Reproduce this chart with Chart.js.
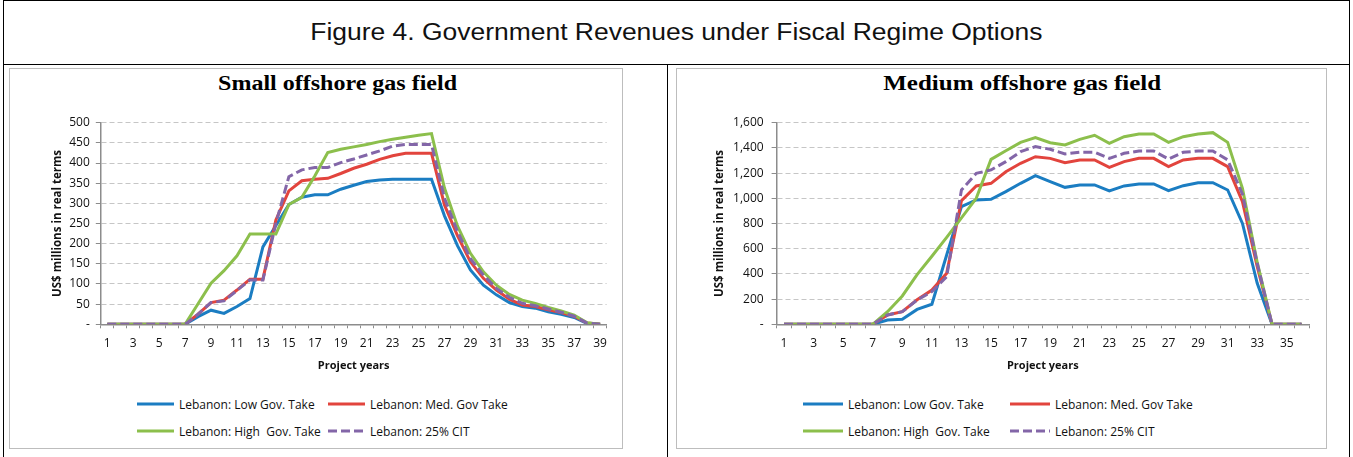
<!DOCTYPE html>
<html>
<head>
<meta charset="utf-8">
<title>Figure 4. Government Revenues under Fiscal Regime Options</title>
<script src="https://cdn.jsdelivr.net/npm/chart.js@4.4.1/dist/chart.umd.min.js"></script>
<style>
  body { margin: 0; background: #fff; }
  #page { position: relative; width: 1353px; height: 457px; overflow: hidden; font-family: 'Open Sans', sans-serif; }
  .rule { position: absolute; background: #000; }
  #figTitle { position: absolute; left: 4px; top: 1px; width: 1345px; height: 63px; line-height: 63px; text-align: center;
              font-family: 'Liberation Sans', Arial, sans-serif; font-size: 23px; color: #111; }
  #figTitle span { display: inline-block; transform: scaleX(1.15); }
  .chartBox { position: absolute; border: 1px solid #bdbdbd; box-sizing: border-box; }
  .subTitle { position: absolute; top: 72px; text-align: center; white-space: nowrap;
              font-family: 'Liberation Serif', 'Times New Roman', serif; font-weight: bold; font-size: 20px; color: #000; }
  .subTitle span { display: inline-block; transform: scaleX(1.2); }
  .plot { position: absolute; top: 100px; height: 280px; }
  .legItem { position: absolute; display: flex; align-items: center; white-space: pre; font-size: 12px; color: #111; }
  .legItem svg { margin-right: 5px; }
</style>
</head>
<body>
<div id="page">
  <!-- table frame -->
  <div class="rule" style="left:3px;top:0;width:1347px;height:1px"></div>
  <div class="rule" style="left:3px;top:0;width:1px;height:457px"></div>
  <div class="rule" style="left:1349px;top:0;width:1px;height:457px"></div>
  <div class="rule" style="left:3px;top:64px;width:1347px;height:1px"></div>
  <div class="rule" style="left:667px;top:64px;width:1px;height:393px"></div>
  <div id="figTitle"><span>Figure 4. Government Revenues under Fiscal Regime Options</span></div>

  <div class="chartBox" style="left:9px;top:68px;width:614px;height:381px"></div>
  <div class="chartBox" style="left:676px;top:68px;width:651px;height:381px"></div>

  <div class="subTitle" style="left:9px;width:658px"><span>Small offshore gas field</span></div>
  <div class="subTitle" style="left:676px;width:692px"><span style="transform:scaleX(1.25)">Medium offshore gas field</span></div>

  <div class="plot" style="left:10px;width:613px"><canvas id="smallChart"></canvas></div>
  <div class="plot" style="left:677px;width:650px"><canvas id="mediumChart"></canvas></div>

  <div id="smallLegend"></div>
  <div id="mediumLegend"></div>
</div>

<script>
// series names (same for both panels)
const seriesNames = ['Lebanon: Low Gov. Take', 'Lebanon: Med. Gov Take', 'Lebanon: High  Gov. Take', 'Lebanon: 25% CIT'];

// Small offshore gas field, project years 1-39
const smallYears = ['1','2','3','4','5','6','7','8','9','10','11','12','13','14','15','16','17','18','19','20',
                    '21','22','23','24','25','26','27','28','29','30','31','32','33','34','35','36','37','38','39'];
const smallLow  = [0,0,0,0,0,0,0, 19,35,27,44,64,192,245,297,315,321,321,335,345,354,358,360,360,360,360,
                   269,195,135,97,73,54,44,40,31,25,17,2,0];
const smallMed  = [0,0,0,0,0,0,0, 25,54,60,85,112,112,259,331,356,360,362,374,387,397,409,418,424,424,424,
                   296,220,155,114,85,62,48,44,36,29,20,3,0];
const smallHigh = [0,0,0,0,0,0,0, 51,102,133,170,224,224,224,297,315,368,426,434,440,446,453,459,464,469,473,
                   338,244,176,130,97,74,60,52,42,33,23,4,0];
const smallCit  = [0,0,0,0,0,0,0, 25,54,58,84,110,110,250,366,383,389,389,401,410,420,430,442,446,446,446,
                   313,230,163,122,89,67,52,46,38,30,20,3,0];
const smallYMax = 500;
const smallYStep = 50;

// Medium offshore gas field, project years 1-36
const mediumYears = ['1','2','3','4','5','6','7','8','9','10','11','12','13','14','15','16','17','18',
                     '19','20','21','22','23','24','25','26','27','28','29','30','31','32','33','34','35','36'];
const mediumLow  = [0,0,0,0,0,0,0, 34,40,118,159,550,934,987,992,1053,1119,1180,1132,1087,1106,1106,1058,
                    1098,1114,1114,1061,1100,1124,1124,1066,801,325,0,0,0];
const mediumMed  = [0,0,0,0,0,0,0, 74,100,195,272,405,981,1098,1119,1211,1278,1330,1317,1283,1304,1304,1246,
                    1291,1317,1317,1251,1304,1317,1317,1251,973,457,0,0,0];
const mediumHigh = [0,0,0,0,0,0,0, 100,225,395,540,690,845,1000,1309,1378,1444,1481,1441,1423,1468,1500,1436,
                    1489,1510,1510,1444,1489,1510,1521,1444,1079,491,0,0,0];
const mediumCit  = [0,0,0,0,0,0,0, 74,100,193,259,378,1066,1198,1225,1291,1370,1410,1389,1352,1365,1365,1317,
                    1357,1375,1375,1312,1365,1375,1375,1305,1033,483,0,0,0];
const mediumYMax = 1600;
const mediumYStep = 200;

const lineColors = ['#1b7dc2', '#e2443d', '#8cbf4c', '#8366a8'];
const citDash = [9, 4];
const axisGray = '#8c8c8c';

function makeDatasets(seriesList) {
    return seriesList.map((values, i) => ({
        label: seriesNames[i],
        data: values,
        borderColor: lineColors[i],
        backgroundColor: lineColors[i],
        borderWidth: 3,
        borderDash: i === 3 ? citDash : [],
        pointRadius: 0,
        tension: 0,
        fill: false,
        order: 4 - i   // purple dashed on top, blue at the bottom
    }));
}

function makeChart(canvasId, labels, seriesList, yMax, yStep, lay) {
    const ctx = document.getElementById(canvasId).getContext('2d');
    return new Chart(ctx, {
        type: 'line',
        data: { labels: labels, datasets: makeDatasets(seriesList) },
        options: {
            responsive: true,
            maintainAspectRatio: false,
            animation: false,
            layout: { padding: { left: lay.padLeft, top: 22.7, right: lay.padRight, bottom: 0 } },
            plugins: { legend: { display: false }, tooltip: { enabled: false } },
            scales: {
                x: {
                    type: 'category',
                    offset: true,
                    afterFit: s => { s.height = 55.7; },
                    grid: { display: true, drawOnChartArea: false, offset: true, tickLength: 4,
                            color: axisGray, tickColor: axisGray },
                    border: { color: axisGray, width: 1.5 },
                    ticks: {
                        autoSkip: false, maxRotation: 0, padding: 8, color: '#111',
                        font: { family: 'Open Sans', size: 12 },
                        callback: (value, index) => index % 2 === 0 ? labels[index] : ''
                    },
                    title: { display: true, text: 'Project years', color: '#111',
                             font: { family: 'Open Sans', size: 11, weight: 'bold' },
                             padding: { top: 0, bottom: 8 } }
                },
                y: {
                    min: 0, max: yMax,
                    afterFit: s => { s.width = lay.axisWidth; },
                    grid: { color: c => c.tick && c.tick.value === 0 ? 'rgba(0,0,0,0)' : '#c6c6c6',
                            lineWidth: 1, tickLength: 5, tickColor: axisGray, tickBorderDash: [] },
                    border: { color: axisGray, width: 1.5, dash: [5, 3] },
                    ticks: {
                        stepSize: yStep, padding: lay.tickPad, color: '#111',
                        font: { family: 'Open Sans', size: 12 },
                        callback: v => v === 0 ? '-' : v.toLocaleString('en-US')
                    },
                    title: { display: true, text: 'US$ millions in real terms', color: '#111',
                             font: { family: 'Open Sans', size: 11.5, weight: 'bold' },
                             padding: { top: 0, bottom: 0 } }
                }
            }
        }
    });
}

// legend drawn in two columns, built from the chart's datasets
function buildLegend(holderId, chart, cfg) {
    const holder = document.getElementById(holderId);
    chart.data.datasets.forEach((ds, i) => {
        const item = document.createElement('div');
        item.className = 'legItem';
        item.style.left = (i % 2 === 0 ? cfg.col1 : cfg.col2) + 'px';
        item.style.top = (i < 2 ? cfg.row1 : cfg.row2) - 9 + 'px';
        item.style.height = '18px';
        const dash = ds.borderDash.length ? ds.borderDash.join(' ') : 'none';
        item.innerHTML = '<svg width="' + cfg.lineLen + '" height="6"><line x1="0" y1="3" x2="' + cfg.lineLen +
            '" y2="3" stroke="' + ds.borderColor + '" stroke-width="3" stroke-dasharray="' + dash + '"/></svg>';
        item.appendChild(document.createTextNode(ds.label));
        holder.appendChild(item);
    });
}

const smallChart = makeChart('smallChart', smallYears, [smallLow, smallMed, smallHigh, smallCit],
    smallYMax, smallYStep, { padLeft: 40.4, axisWidth: 50.4, padRight: 16.4, tickPad: 6 });
const mediumChart = makeChart('mediumChart', mediumYears, [mediumLow, mediumMed, mediumHigh, mediumCit],
    mediumYMax, mediumYStep, { padLeft: 35.4, axisWidth: 64.2, padRight: 18, tickPad: 8 });

buildLegend('smallLegend', smallChart, { col1: 137, col2: 328, row1: 404, row2: 431, lineLen: 37 });
buildLegend('mediumLegend', mediumChart, { col1: 803, col2: 1010, row1: 404, row2: 431, lineLen: 40 });
</script>
</body>
</html>
